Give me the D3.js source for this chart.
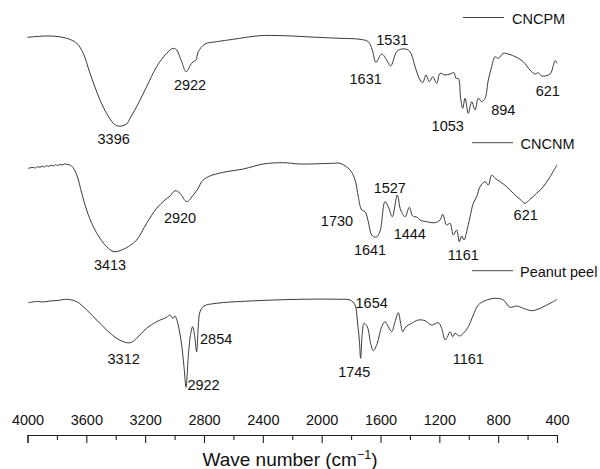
<!DOCTYPE html>
<html>
<head>
<meta charset="utf-8">
<script src="https://cdn.jsdelivr.net/npm/d3@7"></script>
<style>
  body { margin: 0; background: #fff; }
  text { font-family: "Liberation Sans", Arial, sans-serif; fill: #111; }
</style>
</head>
<body>
<script>
// FTIR spectra: [wavenumber (cm-1), transmittance (a.u., stacked)]
const seriesNames = ["CNCPM", "CNCNM", "Peanut peel"];

const cncpm = [
  [4000, 362.7], [3847, 364], [3733, 361.7], [3665, 356.7], [3621, 346.7], [3575, 326.7],
  [3507, 300], [3462, 286.7], [3417, 276.7], [3385, 274], [3360, 274], [3326, 276],
  [3303, 281.7], [3258, 293.3], [3190, 313.3], [3122, 333.3], [3054, 346.7], [3009, 351.7],
  [2986, 350], [2952, 338.3], [2922, 328.3], [2884, 336.7], [2865, 339], [2854, 340],
  [2839, 348.3], [2793, 356], [2714, 358.3], [2601, 360.7], [2419, 364.3], [2261, 364.3],
  [2034, 362.7], [1875, 361.7], [1739, 360.7], [1683, 358.3], [1656, 350], [1631, 337.7],
  [1592, 346], [1558, 340], [1531, 334], [1490, 348.3], [1456, 351], [1411, 350],
  [1388, 345], [1365, 333.3], [1331, 320], [1313, 317.3], [1291, 325], [1268, 318.3],
  [1245, 323.3], [1218, 316.7], [1195, 326.7], [1161, 325], [1127, 326], [1100, 327.3],
  [1087, 321.7], [1071, 321.7], [1055, 301.7], [1041, 291.7], [1025, 301.7], [1003, 286.7],
  [980, 298.3], [957, 290], [935, 301.7], [912, 298.3], [889, 301.7], [867, 320],
  [844, 333.3], [821, 343.3], [799, 341.7], [765, 346.7], [731, 346], [674, 342.7],
  [629, 338.3], [584, 330], [549, 326], [527, 327.3], [504, 324], [447, 326],
  [413, 339.3], [400, 336.7]
];

const cncnm = [
  [3995, 231.7], [3960, 232.6], [3945, 232], [3930, 233.4], [3915, 232.6], [3900, 233.8],
  [3885, 233], [3870, 234.3], [3855, 233.6], [3840, 234.8], [3825, 234], [3810, 235.2],
  [3795, 234.5], [3780, 235.6], [3765, 235], [3750, 236], [3733, 235.7], [3700, 234],
  [3665, 225], [3631, 206.7], [3598, 190], [3553, 173.3], [3507, 161.7], [3462, 153.3],
  [3412, 148.3], [3349, 150.7], [3315, 153.3], [3258, 160], [3190, 176.7], [3122, 191.7],
  [3065, 200], [3031, 204], [2997, 209.3], [2963, 206.7], [2918, 198.3], [2873, 205],
  [2839, 211.7], [2816, 218.3], [2771, 223.3], [2669, 227.7], [2533, 231], [2397, 236],
  [2261, 237.3], [2147, 236], [1921, 236.7], [1875, 236.7], [1807, 230], [1773, 220],
  [1751, 203.3], [1728, 190], [1705, 188.3], [1683, 178.3], [1660, 165], [1631, 162.7],
  [1604, 168.3], [1570, 198.3], [1547, 193.3], [1520, 183.3], [1486, 205], [1463, 190],
  [1433, 183.3], [1404, 192.7], [1381, 184], [1350, 182.7], [1331, 180], [1286, 178.3],
  [1229, 177.3], [1195, 180], [1177, 185.7], [1150, 175], [1127, 176.7], [1105, 165],
  [1082, 170], [1064, 158.3], [1048, 164], [1032, 160], [1014, 168.3], [991, 183.3],
  [969, 196.7], [946, 203.3], [923, 213.3], [889, 218.3], [867, 215], [844, 225],
  [821, 221.7], [787, 218.3], [742, 213.3], [697, 206.7], [651, 200.7], [617, 196.7],
  [584, 200.7], [538, 206.7], [493, 213.3], [447, 223.3], [400, 235]
];

const peanut = [
  [3995, 97.3], [3930, 98.6], [3900, 98], [3847, 99], [3790, 99.6], [3733, 100.7],
  [3665, 98.3], [3597, 90], [3530, 80], [3462, 70], [3394, 61.7], [3326, 57.3],
  [3292, 57.7], [3258, 61.7], [3190, 71.7], [3122, 78.3], [3054, 82.7], [3031, 85],
  [3013, 81.7], [2997, 84], [2986, 80.7], [2968, 70], [2952, 55], [2936, 33.3],
  [2922, 12.7], [2907, 43.3], [2890, 66.7], [2877, 73.3], [2863, 63.3], [2850, 48.3],
  [2839, 73.3], [2827, 88.3], [2800, 94], [2714, 96.7], [2487, 99], [2147, 100.7],
  [1875, 100.7], [1807, 100], [1773, 95], [1758, 80], [1744, 60], [1735, 41.7],
  [1724, 66.7], [1712, 76.7], [1690, 73.3], [1667, 56.7], [1649, 49.3], [1622, 56.7],
  [1592, 73.3], [1569, 78.3], [1547, 73.3], [1524, 68.3], [1501, 78.3], [1479, 87.3],
  [1463, 76.7], [1449, 68.3], [1427, 73.3], [1388, 76.7], [1343, 80], [1297, 79.3],
  [1252, 75], [1207, 77.3], [1184, 71.7], [1161, 60], [1145, 63.3], [1127, 68.3],
  [1109, 63.3], [1093, 66.7], [1064, 64], [1037, 66.7], [1003, 73.3], [969, 85],
  [935, 95], [889, 99.3], [821, 101.7], [765, 100], [720, 92.7], [674, 94],
  [629, 91.7], [572, 89.3], [515, 91.7], [447, 96.7], [400, 100.7]
];

// peak labels: text, wavenumber, level, anchor
const peakLabels = [
  ["3396", 3414, 261, "middle"], ["2922", 2895, 315, "middle"], ["1531", 1520, 360.7, "middle"],
  ["1631", 1701, 321, "middle"], ["1053", 1143, 274, "middle"], ["894", 765, 290.7, "middle"],
  ["621", 463, 309, "middle"],
  ["3413", 3439, 135.7, "middle"], ["2920", 2963, 182.7, "middle"], ["1730", 1896, 179, "middle"],
  ["1527", 1537, 212.7, "middle"], ["1641", 1671, 150.7, "middle"], ["1444", 1401, 166.7, "middle"],
  ["1161", 1037, 145, "middle"], ["621", 613, 185, "middle"],
  ["3312", 3346, 41, "middle"], ["2922", 2913, 15.7, "start"], ["2854", 2827, 61, "start"],
  ["1654", 1660, 97.3, "middle"], ["1745", 1778, 28.3, "middle"], ["1161", 1003, 41, "middle"]
];

const majorTicks = [4000, 3600, 3200, 2800, 2400, 2000, 1600, 1200, 800, 400];
const minorTicks = [3800, 3400, 3000, 2600, 2200, 1800, 1400, 1000, 600];

const width = 600, height = 469;

const svg = d3.select("body").append("svg")
  .attr("width", width)
  .attr("height", height);

const x = d3.scaleLinear().domain([4000, 400]).range([27.5, 557]);
const y = d3.scaleLinear().domain([0, 380]).range([400, 20]);

const line = d3.line()
  .x(d => x(d[0]))
  .y(d => y(d[1]))
  .curve(d3.curveCatmullRom.alpha(0.5));

[cncpm, cncnm, peanut].forEach(s => {
  svg.append("path")
    .datum(s)
    .attr("fill", "none")
    .attr("stroke", "#3a3a3a")
    .attr("stroke-width", 1)
    .attr("d", line);
});

svg.selectAll("text.peak")
  .data(peakLabels)
  .enter().append("text")
  .attr("class", "peak")
  .attr("x", d => x(d[1]))
  .attr("y", d => y(d[2]))
  .attr("dy", "0.36em")
  .attr("text-anchor", d => d[3])
  .style("font-size", "14.5px")
  .text(d => d[0]);

// legend entries (one beside each trace)
const legendPos = [[463, 17.5, 512], [472, 142.7, 520.5], [472, 270.7, 520]];
seriesNames.forEach((name, i) => {
  const p = legendPos[i];
  svg.append("line")
    .attr("x1", p[0]).attr("x2", p[0] + 41)
    .attr("y1", p[1]).attr("y2", p[1])
    .attr("stroke", "#444").attr("stroke-width", 1);
  svg.append("text")
    .attr("x", p[2]).attr("y", p[1] + 1)
    .attr("dy", "0.36em")
    .style("font-size", "14.5px")
    .text(name);
});

// x axis: labels above the line, ticks hanging below
const axisY = 435;
const gAxis = svg.append("g")
  .attr("transform", "translate(0," + axisY + ")")
  .call(d3.axisTop(x).tickValues(majorTicks).tickSizeInner(-8).tickSizeOuter(-8)
    .tickPadding(10).tickFormat(d3.format("d")));
gAxis.selectAll("text")
  .style("font-size", "14.5px")
  .style("font-family", "'Liberation Sans', Arial, sans-serif")
  .attr("fill", "#111");
gAxis.selectAll("line, path").attr("stroke", "#222").attr("stroke-width", 1.1);

const gMinor = svg.append("g")
  .attr("transform", "translate(0," + axisY + ")")
  .call(d3.axisTop(x).tickValues(minorTicks).tickSizeInner(-5).tickSizeOuter(0).tickFormat(""));
gMinor.select(".domain").remove();
gMinor.selectAll("line").attr("stroke", "#222").attr("stroke-width", 1.1);

const title = svg.append("text")
  .attr("x", 290).attr("y", 466)
  .attr("text-anchor", "middle")
  .style("font-size", "19px");
title.append("tspan").text("Wave number (cm");
title.append("tspan").attr("dy", -7).style("font-size", "12.5px").text("\u22121");
title.append("tspan").attr("dy", 7).text(")");
</script>
</body>
</html>
